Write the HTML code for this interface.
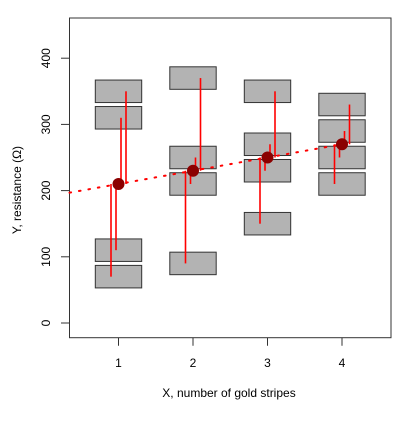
<!DOCTYPE html>
<html><head><meta charset="utf-8"><style>
body{margin:0;background:#fff}
svg text{font-family:"Liberation Sans",sans-serif;font-size:12px;fill:#000}
</style></head><body>
<svg id="chart" width="412" height="420">
<rect x="69.5" y="18" width="321.5" height="319.7" fill="none" stroke="#333" stroke-width="1"/>
<g id="marks"></g>
<text x="229" y="397" text-anchor="middle">X, number of gold stripes</text>
<text transform="translate(21,190) rotate(-90)" text-anchor="middle">Y, resistance (Ω)</text>
</svg>
<script>
const xCats=[1,2,3,4];
const groupValues=[[70,110,310,350],[90,210,250,370],[150,230,270,350],[210,250,290,330]];
const yTicks=[0,100,200,300,400];
const fitIntercept=190, fitSlope=20;
const halfBox=17;
const NS='http://www.w3.org/2000/svg';
const sx=v=>118.5+(v-1)*74.5;
const sy=v=>323-v*0.662;
const g=document.getElementById('marks');
function mk(t,a){const e=document.createElementNS(NS,t);for(const k in a)e.setAttribute(k,a[k]);g.appendChild(e);return e;}
yTicks.forEach(t=>{
  const l=mk('line',{x1:61,x2:69.5,y1:sy(t),y2:sy(t),stroke:'#333'});
  
  
  const tx=mk('text',{transform:`translate(50,${sy(t)}) rotate(-90)`,'text-anchor':'middle'});
  tx.textContent=t;
  
  
});
xCats.forEach(c=>{
  const l=mk('line',{x1:sx(c),x2:sx(c),y1:337.7,y2:345.7,stroke:'#333'});
  
  
  const tx=mk('text',{x:sx(c),y:367,'text-anchor':'middle'});
  tx.textContent=c;
  
  
});
xCats.forEach((c,i)=>{
  groupValues[i].forEach(v=>{
    const r=mk('rect',{x:sx(c)-23.2,y:sy(v+halfBox),width:46.4,height:sy(v-halfBox)-sy(v+halfBox),fill:'#b3b3b3',stroke:'#333','stroke-width':1});
    
    
  });
});
// dotted fit line
const fl=mk('line',{x1:69.5,y1:sy(fitIntercept+fitSlope*(1+(69.5-118.5)/74.5)),x2:sx(4),y2:sy(fitIntercept+fitSlope*4),stroke:'#f00','stroke-width':2,'stroke-dasharray':'1.6 8','stroke-linecap':'round'});


xCats.forEach((c,i)=>{
  const vals=groupValues[i];
  const mean=vals.reduce((a,b)=>a+b,0)/vals.length;
  const sorted=[...vals].sort((a,b)=>a-b);
  sorted.forEach((v,j)=>{
    const x=sx(c)+(j-1.5)*5;
    const l=mk('line',{x1:x,x2:x,y1:sy(mean),y2:sy(v),stroke:'#f00','stroke-width':1.6});
    
    
  });
  const p=mk('circle',{cx:sx(c),cy:sy(mean),r:6,fill:'#8b0000'});
  
  
});
</script>
</body></html>
